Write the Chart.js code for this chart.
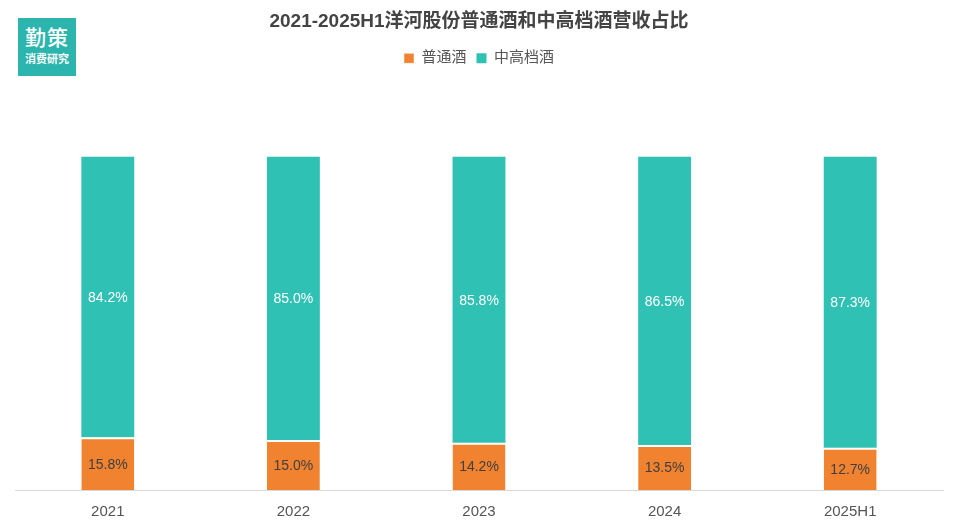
<!DOCTYPE html>
<html><head><meta charset="utf-8">
<script src="https://cdn.jsdelivr.net/npm/chart.js@4"></script>
<style>
html,body{margin:0;padding:0;background:#fff;}
#wrap{position:relative;width:958px;height:532px;}
#logo{position:absolute;left:18px;top:18px;width:58px;height:58px;background:#2bb5ae;color:#fff;text-align:center;font-family:"Noto Sans CJK SC",sans-serif;}
#logo .a{font-size:21px;font-weight:500;line-height:21px;margin-top:8px;letter-spacing:1px;}
#logo .b{font-size:11px;line-height:12px;margin-top:5px;font-weight:bold;}
</style></head>
<body><div id="wrap"><canvas id="c" width="958" height="532"></canvas>
<div id="logo"><div class="a">勤策</div><div class="b">消费研究</div></div></div>
<script>
const categories = ['2021','2022','2023','2024','2025H1'];
const ordinary = [15.8, 15.0, 14.2, 13.5, 12.7];
const midHigh = [84.2, 85.0, 85.8, 86.5, 87.3];
const seriesNames = ['普通酒','中高档酒'];
const titleText = '2021-2025H1洋河股份普通酒和中高档酒营收占比';

const labelPlugin = {
  id:'segLabels',
  afterDatasetsDraw(chart){
    const ctx = chart.ctx;
    ctx.save();
    ctx.font = '14px "Liberation Sans", Arial, sans-serif';
    ctx.textAlign='center'; ctx.textBaseline='middle';
    chart.data.datasets.forEach((ds,i)=>{
      const meta = chart.getDatasetMeta(i);
      meta.data.forEach((bar,j)=>{
        const top = Math.min(bar.y, bar.base), bot = Math.max(bar.y, bar.base);
        ctx.fillStyle = i===0 ? '#404040' : '#ffffff';
        ctx.fillText(ds.data[j].toFixed(1)+'%', bar.x, (top+bot)/2 + 1);
      });
    });
    ctx.restore();
  }
};

new Chart(document.getElementById('c'),{
  type:'bar',
  data:{labels:categories,datasets:[
    {label:seriesNames[0],data:ordinary,backgroundColor:'#f08230',borderColor:'#ffffff',borderWidth:{top:2,left:0,right:0,bottom:0},borderSkipped:false,categoryPercentage:1,barPercentage:0.285},
    {label:seriesNames[1],data:midHigh,backgroundColor:'#30c1b5',borderWidth:0,categoryPercentage:1,barPercentage:0.285}
  ]},
  options:{
    responsive:false,animation:false,
    layout:{padding:{left:15,right:15,bottom:6,top:0}},
    plugins:{
      title:{display:true,text:titleText,color:'#444444',font:{size:19,weight:'bold',family:'"Liberation Sans","Noto Sans CJK SC",sans-serif'},padding:{top:10,bottom:8}},
      legend:{display:true,labels:{boxWidth:10,boxHeight:10,color:'#555555',font:{size:15,family:'"Liberation Sans","Noto Sans CJK SC",sans-serif'},padding:10}},
      tooltip:{enabled:false}
    },
    scales:{
      x:{stacked:true,grid:{display:false},border:{display:true,color:'#d9d9d9'},ticks:{color:'#555555',padding:5,font:{size:15,family:'"Liberation Sans",sans-serif'}}},
      y:{stacked:true,display:false,min:0,max:124.3}
    }
  },
  plugins:[labelPlugin]
});
</script></body></html>
